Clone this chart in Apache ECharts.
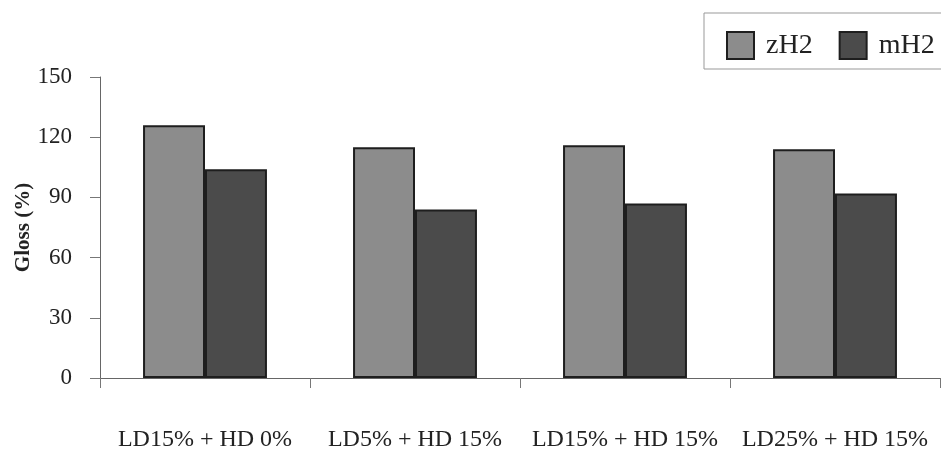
<!DOCTYPE html>
<html><head><meta charset="utf-8">
<script src="https://cdn.jsdelivr.net/npm/echarts@6/dist/echarts.min.js"></script>
<style>html,body{margin:0;padding:0;background:#fff}#c{width:941px;height:459px}</style>
</head><body><div id="c"></div>
<script>
const categories = ['LD15% + HD 0%', 'LD5% + HD 15%', 'LD15% + HD 15%', 'LD25% + HD 15%'];
const zH2 = [126, 115, 116, 114];
const mH2 = [104, 84, 87, 92];
const seriesNames = ['zH2', 'mH2'];
const yTicks = [0, 30, 60, 90, 120, 150];

const chart = echarts.init(document.getElementById('c'));
const font = '"Liberation Serif", "Times New Roman", serif';
chart.setOption({
  animation: false,
  textStyle: { fontFamily: font },
  legend: {
    left: 704, top: 13, width: 260,
    orient: 'horizontal',
    padding: [18, 12, 9, 22],
    itemWidth: 27, itemHeight: 27, itemGap: 26,
    icon: 'rect',
    borderColor: '#999', borderWidth: 1,
    textStyle: { fontFamily: font, fontSize: 28, color: '#222', padding: [4, 0, 0, 7] },
    data: seriesNames
  },
  grid: { left: 100, right: 1, top: 77, bottom: 81, outerBoundsMode: 'none' },
  xAxis: {
    type: 'category', data: categories,
    axisLine: { lineStyle: { color: '#666', width: 1 } },
    axisTick: { show: true, interval: 0, length: 10, lineStyle: { color: '#777' } },
    axisLabel: { interval: 0, margin: 50, fontFamily: font, fontSize: 24, color: '#222' }
  },
  yAxis: {
    type: 'value', min: 0, max: 150, interval: 30,
    name: 'Gloss (%)', nameLocation: 'middle', nameGap: 66, nameRotate: 90,
    nameMoveOverlap: false,
    nameTextStyle: { fontFamily: font, fontSize: 21, fontWeight: 'bold', color: '#222' },
    axisLine: { show: true, lineStyle: { color: '#666' } },
    axisTick: { show: true, length: 10, lineStyle: { color: '#777' } },
    axisLabel: { margin: 28, fontFamily: font, fontSize: 23, color: '#222',
      formatter: v => yTicks.includes(v) ? String(v) : '' },
    splitLine: { show: false }
  },
  series: [
    { name: seriesNames[0], type: 'bar', data: zH2, barGap: '0%', barCategoryGap: '41%',
      itemStyle: { color: '#8c8c8c', borderColor: '#1e1e1e', borderWidth: 2 } },
    { name: seriesNames[1], type: 'bar', data: mH2,
      itemStyle: { color: '#4b4b4b', borderColor: '#1e1e1e', borderWidth: 2 } }
  ]
});
</script></body></html>
